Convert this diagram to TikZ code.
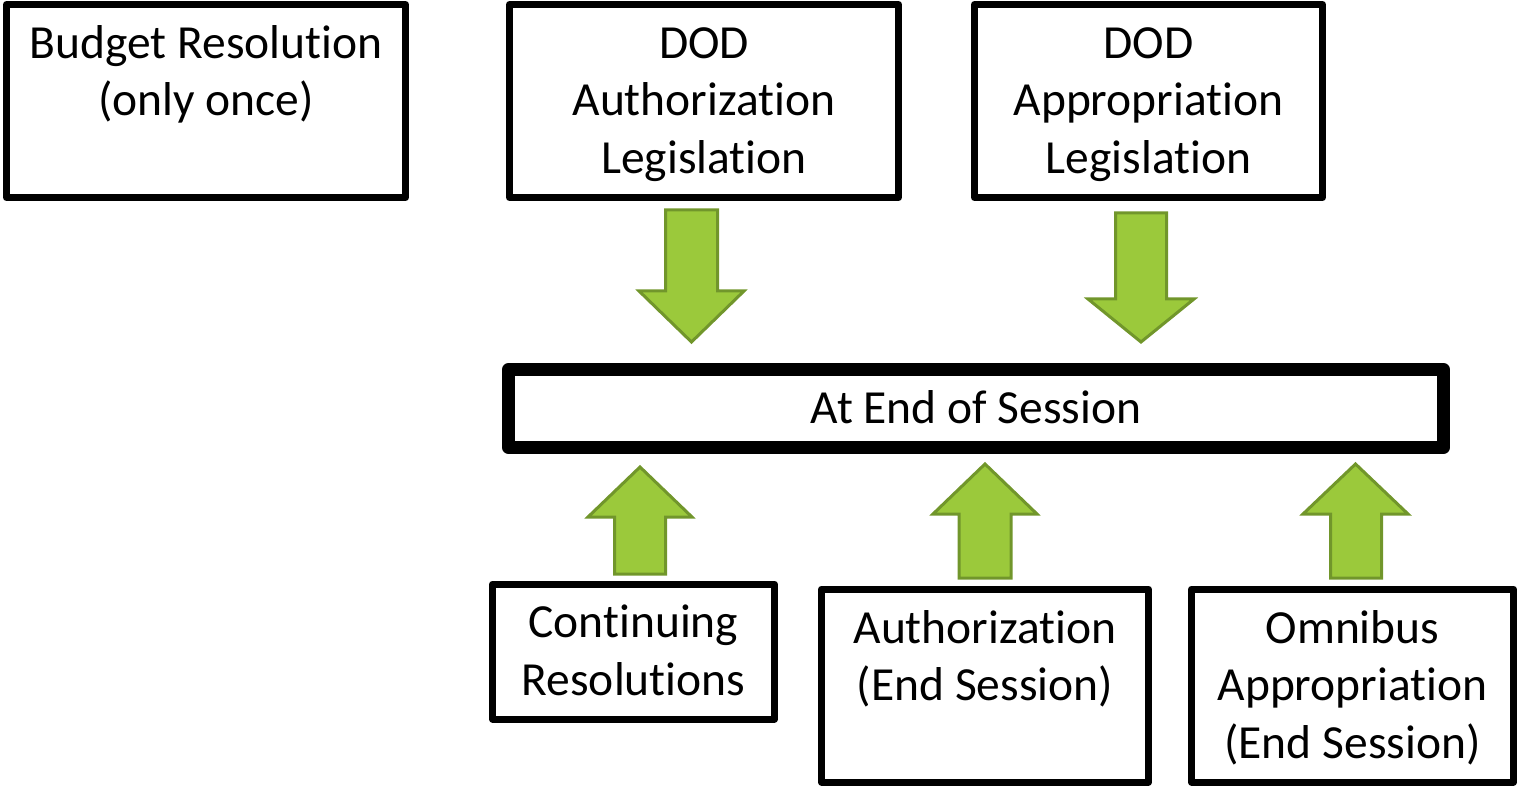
\documentclass[tikz,border=0pt]{standalone}
\usepackage{fontspec}
\setmainfont[RawFeature={-liga;-clig;-dlig}]{Carlito}
\newcommand\lnstrut{\rule[-13.75pt]{0pt}{57.5pt}}
\tikzset{
  box/.style={draw=black, line width=7pt, line join=round, fill=white, rectangle,
    inner sep=0pt, align=center, font=\fontsize{47.5}{57.5}\selectfont},
  bigbox/.style={box, line width=13pt},
  greenarrow/.style={fill=arrowfill, draw=arrowline, line width=3pt, line join=miter}
}
\definecolor{arrowfill}{HTML}{9BC93B}
\definecolor{arrowline}{HTML}{71962B}
\begin{document}
\begin{tikzpicture}[x=1pt, y=-1pt]
\useasboundingbox (0,0) rectangle (1519,786);
% top boxes
\node[box, minimum width=399pt, minimum height=193pt] (budget) at (206,101)
  {\lnstrut Budget Resolution\\ \lnstrut(only once)\\ \lnstrut};
\node[box, minimum width=389pt, minimum height=193pt] (dodauth) at (704,101)
  {\lnstrut DOD\\ \lnstrut Authorization\\ \lnstrut Legislation};
\node[box, minimum width=348pt, minimum height=193pt] (dodapp) at (1148.5,101)
  {\lnstrut DOD\\ \lnstrut Appropriation\\ \lnstrut Legislation};
% middle box
\node[bigbox, minimum width=935pt, minimum height=78pt] (end) at (976,408.5)
  {\lnstrut At End of Session};
% bottom boxes
\node[box, minimum width=282pt, minimum height=135pt] (cont) at (633.5,651.5)
  {\lnstrut Continuing\\ \lnstrut Resolutions};
\node[box, minimum width=327pt, minimum height=193pt] (authend) at (985,685.5)
  {\lnstrut Authorization\\ \lnstrut(End Session)\\ \lnstrut};
\node[box, minimum width=322pt, minimum height=193pt] (omni) at (1352.5,685.5)
  {\lnstrut Omnibus\\ \lnstrut Appropriation\\ \lnstrut(End Session)};
% down arrows
\draw[greenarrow] (665.5,210) -- (717.5,210) -- (717.5,291) -- (744,291) -- (691.5,342)
  -- (639,291) -- (665.5,291) -- cycle;
\draw[greenarrow] (1115.5,213) -- (1166.5,213) -- (1166.5,299) -- (1194,299) -- (1141,342)
  -- (1088,299) -- (1115.5,299) -- cycle;
% up arrows
\draw[greenarrow] (614.5,574) -- (665.5,574) -- (665.5,517) -- (692,517) -- (640,467)
  -- (588,517) -- (614.5,517) -- cycle;
\draw[greenarrow] (959,578) -- (1011,578) -- (1011,514) -- (1037,514) -- (985,464)
  -- (933,514) -- (959,514) -- cycle;
\draw[greenarrow] (1330.5,578) -- (1381.5,578) -- (1381.5,514) -- (1408,514) -- (1355.5,464)
  -- (1303,514) -- (1330.5,514) -- cycle;
\end{tikzpicture}
\end{document}
